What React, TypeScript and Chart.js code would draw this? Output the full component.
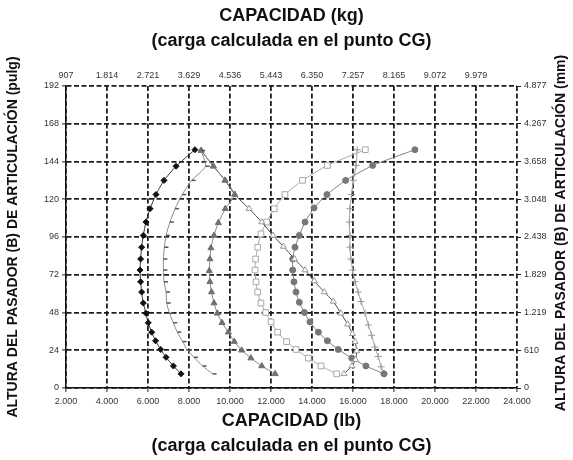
import React, { useEffect, useRef } from "react";
import { Chart, registerables } from "chart.js";

Chart.register(...registerables);

// Tick values / labels
const lbTickValues = [2000, 4000, 6000, 8000, 10000, 12000, 14000, 16000, 18000, 20000, 22000, 24000];
const lbTickLabels = ["2.000", "4.000", "6.000", "8.000", "10.000", "12.000", "14.000", "16.000", "18.000", "20.000", "22.000", "24.000"];
const kgTickLabels = ["907", "1.814", "2.721", "3.629", "4.536", "5.443", "6.350", "7.257", "8.165", "9.072", "9.979", ""];
const inchTickValues = [0, 24, 48, 72, 96, 120, 144, 168, 192];
const mmTickLabels = ["0", "610", "1.219", "1.829", "2.438", "3.048", "3.658", "4.267", "4.877"];

// Series 1: black diamonds
const diamondX = [7610, 7240, 6880, 6620, 6370, 6180, 6010, 5900, 5770, 5690, 5640, 5610, 5640, 5690, 5770, 5900, 6100, 6390, 6780, 7370, 8290];
const diamondY = [9, 14, 19.5, 24.5, 30, 35.5, 41.5, 47.5, 54, 61, 67.5, 75, 82, 89.5, 97, 105.5, 114, 123, 132, 141, 151.5];

// Series 2: dash markers
const dashX = [9150, 8660, 8240, 7930, 7690, 7430, 7230, 7050, 6910, 6880, 6780, 6750, 6750, 6800, 6880, 7070, 7320, 7670, 8130, 8810, 8590];
const dashY = [9, 14, 19.5, 24, 29.5, 35.5, 41.5, 47.5, 54, 61, 67.5, 75, 82, 89.5, 97, 105.5, 114, 123, 132, 141, 151];

// Series 3: filled triangles
const triX = [12200, 11550, 11020, 10570, 10210, 9920, 9610, 9380, 9220, 9100, 9020, 8990, 9020, 9070, 9220, 9430, 9770, 10230, 9760, 9190, 8590];
const triY = [9, 14, 19, 24, 29.5, 35.5, 41.5, 47.5, 54, 61, 67.5, 74.5, 82, 89, 97, 105, 114, 123, 132, 141, 151];

// Series 4: open triangles
const openTriX = [15560, 15950, 16130, 16180, 16100, 15970, 15740, 15410, 15040, 14600, 14110, 13660, 13150, 12600, 12100, 11550, 10930, 10230, 9760, 9190, 8590];
const openTriY = [9, 14, 18, 23.5, 29.5, 34.5, 40.5, 47.5, 55, 61, 68, 75, 82, 90, 97, 105.5, 114, 123, 132, 141, 151];

// Series 5: open squares
const squareX = [15200, 14440, 13820, 13220, 12760, 12320, 12000, 11740, 11510, 11350, 11270, 11220, 11250, 11350, 11510, 11790, 12160, 12680, 13540, 14750, 16600];
const squareY = [9, 14, 19, 24.5, 29.5, 35.5, 42, 48, 54, 61, 67.5, 75, 82, 89.5, 98, 105.5, 114, 123, 132, 141.5, 151.5];

// Series 6: filled circles
const circleX = [17510, 16630, 15940, 15280, 14750, 14310, 13900, 13630, 13380, 13220, 13120, 13060, 13060, 13170, 13380, 13660, 14100, 14730, 15640, 16960, 19020];
const circleY = [9, 14, 19, 24.5, 30, 35.5, 42, 48, 54.5, 61, 67.5, 75, 82, 89.5, 97, 105.5, 114.5, 123, 132, 141.5, 151.5];

// Series 7: plus markers
const plusX = [17530, 17370, 17230, 17070, 16910, 16750, 16590, 16390, 16250, 16100, 15980, 15900, 15850, 15850, 15820, 15850, 15930, 16010, 16150, 16200];
const plusY = [9, 13.5, 20, 26, 33.5, 40, 47.5, 55, 61, 67.5, 75, 82, 89.5, 97, 105.5, 114, 123, 132, 141.5, 151.5];

const topTitle = ["CAPACIDAD (kg)", "(carga calculada en el punto CG)"];
const bottomTitle = ["CAPACIDAD (lb)", "(carga calculada en el punto CG)"];
const leftTitle = "ALTURA DEL PASADOR (B) DE ARTICULACIÓN (pulg)";
const rightTitle = "ALTURA DEL PASADOR (B) DE ARTICULACIÓN (mm)";

const pts = (xs: number[], ys: number[]) => xs.map((x, i) => ({ x, y: ys[i] }));

const FONT = "'Liberation Sans', Arial, Helvetica, sans-serif";

export default function App() {
  const ref = useRef<HTMLCanvasElement | null>(null);

  useEffect(() => {
    document.body.style.margin = "0";
    if (!ref.current) return;

    const rightTitlePlugin = {
      id: "rightTitle",
      afterDraw(chart: any) {
        const { ctx, chartArea } = chart;
        ctx.save();
        ctx.translate(561, (chartArea.top + chartArea.bottom) / 2 - 4);
        ctx.rotate(-Math.PI / 2);
        ctx.font = `bold 14px ${FONT}`;
        ctx.fillStyle = "#111";
        ctx.textAlign = "center";
        ctx.textBaseline = "middle";
        ctx.fillText(rightTitle, 0, 0);
        ctx.restore();
      },
    };

    const base = {
      showLine: true,
      borderWidth: 1,
      tension: 0.2,
      pointBorderWidth: 1,
    };

    const gridOpts = {
      color: "#1e1e1e",
      lineWidth: 1.8,
      drawTicks: true,
      tickLength: 4,
      tickColor: "#222",
      tickWidth: 1,
      tickBorderDash: [],
    };

    const chart = new Chart(ref.current, {
      type: "scatter",
      data: {
        datasets: [
          {
            ...base,
            label: "diamantes",
            data: pts(diamondX, diamondY),
            borderColor: "#333",
            pointStyle: "rectRot",
            pointRadius: 3,
            pointBackgroundColor: "#111",
            pointBorderColor: "#111",
          },
          {
            ...base,
            label: "guiones",
            data: pts(dashX, dashY),
            borderColor: "#8a8a8a",
            pointStyle: "dash",
            pointRadius: 4,
            pointBorderWidth: 1.5,
            pointBackgroundColor: "#555",
            pointBorderColor: "#555",
          },
          {
            ...base,
            label: "triángulos llenos",
            data: pts(triX, triY),
            borderColor: "#888",
            pointStyle: "triangle",
            pointRadius: 3.5,
            pointBackgroundColor: "#707070",
            pointBorderColor: "#707070",
          },
          {
            ...base,
            label: "triángulos abiertos",
            data: pts(openTriX, openTriY),
            borderColor: "#4a4a4a",
            pointStyle: "triangle",
            pointRadius: 3.5,
            pointBackgroundColor: "#fff",
            pointBorderColor: "#999",
          },
          {
            ...base,
            label: "cuadrados",
            data: pts(squareX, squareY),
            borderColor: "#aaa",
            pointStyle: "rect",
            pointRadius: 4,
            pointBackgroundColor: "#fff",
            pointBorderColor: "#a8a8a8",
          },
          {
            ...base,
            label: "círculos",
            data: pts(circleX, circleY),
            borderColor: "#808080",
            pointStyle: "circle",
            pointRadius: 3,
            pointBackgroundColor: "#777",
            pointBorderColor: "#777",
          },
          {
            ...base,
            label: "cruces",
            data: pts(plusX, plusY),
            borderColor: "#a0a0a0",
            pointStyle: "cross",
            pointRadius: 3.5,
            pointBackgroundColor: "#999",
            pointBorderColor: "#999",
          },
        ],
      },
      options: {
        animation: false,
        responsive: true,
        maintainAspectRatio: false,
        layout: { padding: 0 },
        plugins: {
          legend: { display: false },
          tooltip: { enabled: false },
        },
        scales: {
          x: {
            type: "linear",
            position: "bottom",
            min: 2000,
            max: 24000,
            afterBuildTicks: (s: any) => {
              s.ticks = lbTickValues.map((v) => ({ value: v }));
            },
            afterFit: (s: any) => {
              s.height = 72;
            },
            ticks: {
              font: { size: 9, family: FONT },
              color: "#333",
              padding: 4,
              maxRotation: 0,
              autoSkip: false,
              callback: (v: any) => lbTickLabels[lbTickValues.indexOf(Number(v))] ?? "",
            },
            grid: gridOpts,
            border: { display: true, color: "#111", width: 1.5, dash: [5, 2.5] },
            title: {
              display: true,
              text: bottomTitle,
              font: { size: 18, weight: "bold", family: FONT, lineHeight: 25 / 18 },
              color: "#111",
              padding: { top: 0, bottom: 1.5 },
            },
          },
          x2: {
            type: "linear",
            position: "top",
            min: 2000,
            max: 24000,
            afterBuildTicks: (s: any) => {
              s.ticks = lbTickValues.map((v) => ({ value: v }));
            },
            afterFit: (s: any) => {
              s.height = 86;
            },
            ticks: {
              font: { size: 9, family: FONT },
              color: "#333",
              padding: 5,
              maxRotation: 0,
              autoSkip: false,
              callback: (v: any) => kgTickLabels[lbTickValues.indexOf(Number(v))] ?? "",
            },
            grid: { display: false, drawTicks: false, drawOnChartArea: false },
            border: { display: false },
            title: {
              display: true,
              text: topTitle,
              font: { size: 18, weight: "bold", family: FONT, lineHeight: 25 / 18 },
              color: "#111",
              padding: { top: 4, bottom: 0 },
            },
          },
          y: {
            type: "linear",
            position: "left",
            min: 0,
            max: 192,
            afterBuildTicks: (s: any) => {
              s.ticks = inchTickValues.map((v) => ({ value: v }));
            },
            afterFit: (s: any) => {
              s.width = 66;
            },
            ticks: {
              font: { size: 9, family: FONT },
              color: "#333",
              padding: 3,
              autoSkip: false,
            },
            grid: gridOpts,
            border: { display: true, color: "#111", width: 1.5, dash: [5, 2.5] },
            title: {
              display: true,
              text: leftTitle,
              font: { size: 14, weight: "bold", family: FONT, lineHeight: 1.2 },
              color: "#111",
              padding: { top: 5, bottom: 0 },
            },
          },
          y2: {
            type: "linear",
            position: "right",
            min: 0,
            max: 192,
            afterBuildTicks: (s: any) => {
              s.ticks = inchTickValues.map((v) => ({ value: v }));
            },
            afterFit: (s: any) => {
              s.width = 56;
            },
            ticks: {
              font: { size: 9, family: FONT },
              color: "#333",
              padding: 3,
              autoSkip: false,
              callback: (v: any) => mmTickLabels[inchTickValues.indexOf(Number(v))] ?? "",
            },
            grid: {
              drawOnChartArea: false,
              drawTicks: true,
              tickLength: 4,
              tickColor: "#222",
              tickWidth: 1,
              tickBorderDash: [],
            },
            border: { display: false },
          },
        },
      },
      plugins: [rightTitlePlugin],
    } as any);

    return () => chart.destroy();
  }, []);

  return (
    <div style={{ width: 573, height: 460, position: "relative", background: "#fff" }}>
      <canvas ref={ref} />
    </div>
  );
}
